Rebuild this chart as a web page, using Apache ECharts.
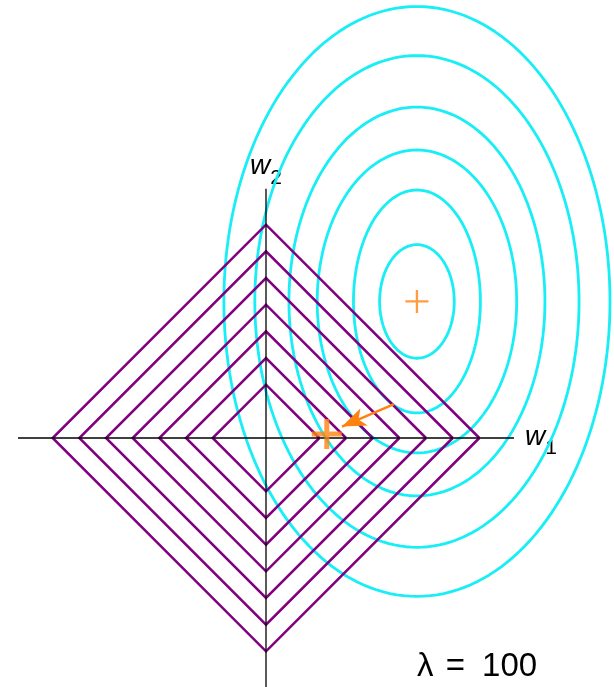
<!DOCTYPE html>
<html>
<head>
<meta charset="utf-8">
<script src="https://cdn.jsdelivr.net/npm/echarts@6/dist/echarts.min.js"></script>
<style>
html,body{margin:0;padding:0;background:#fff;}
#chart{width:614px;height:687px;}
</style>
</head>
<body>
<div id="chart"></div>
<script>
// ---- data ----
const diamondSizes = [2, 3, 4, 5, 6, 7, 8];             // L1-ball radii (|w1|+|w2| = r)
const ellipseCenter = [5.66, 5.12];                    // unregularised optimum
const ellipseA = [1.40, 2.38, 3.74, 4.80, 6.08, 7.24];  // horizontal semi-axes
const ellipseB = [2.13, 4.18, 5.68, 7.29, 9.22, 11.06]; // vertical semi-axes
const solutionPoint = [2.28, 0.15];                    // regularised optimum
const arrowFrom = [4.80, 1.27];
const arrowTo = [2.85, 0.43];
const axisXRange = [-9.3, 9.3];
const axisYRange = [-9.35, 9.35];
const xLabel = ['w', '1'];
const yLabel = ['w', '2'];
const lambdaParts = ['λ', '=', '100'];

const CYAN = '#18eef5';
const PURPLE = '#800080';
const ORANGE = '#ff8210';
const FONT = '"Liberation Sans", Arial, Helvetica, sans-serif';

const series = [];
ellipseA.forEach((a, i) => {
  const b = ellipseB[i];
  const pts = [];
  for (let t = 0; t <= 360; t += 2) {
    const r = t * Math.PI / 180;
    pts.push([ellipseCenter[0] + a * Math.cos(r), ellipseCenter[1] + b * Math.sin(r)]);
  }
  series.push({
    type: 'line', data: pts, showSymbol: false, symbol: 'none', clip: false,
    lineStyle: { color: CYAN, width: 2.8 }, silent: true, z: 2
  });
});
diamondSizes.forEach(r => {
  series.push({
    type: 'line', data: [[r, 0], [0, r], [-r, 0], [0, -r], [r, 0]],
    showSymbol: false, symbol: 'none', clip: false,
    lineStyle: { color: PURPLE, width: 2.5, join: 'miter' }, silent: true, z: 3
  });
});
// coordinate axes
series.push({
  type: 'line', data: [[axisXRange[0], 0], [axisXRange[1], 0]],
  showSymbol: false, symbol: 'none', clip: false, silent: true, z: 4,
  lineStyle: { color: '#000', width: 1.3 }
});
series.push({
  type: 'line', data: [[0, axisYRange[0]], [0, axisYRange[1]]],
  showSymbol: false, symbol: 'none', clip: false, silent: true, z: 4,
  lineStyle: { color: '#000', width: 1.3 }
});
// small cross at the unregularised optimum
series.push({
  type: 'scatter', data: [ellipseCenter], clip: false, silent: true, z: 5,
  symbol: 'path://M0,4.5H4.5V0H5.5V4.5H10V5.5H5.5V10H4.5V5.5H0Z',
  symbolSize: 23, itemStyle: { color: ORANGE }
});
// big cross at regularised solution + arrow
series.push({
  type: 'scatter', data: [solutionPoint], clip: false, silent: true, z: 6,
  symbol: 'path://M0,12.5H12.5V0H17.5V12.5H30V17.5H17.5V30H12.5V17.5H0Z',
  symbolSize: 30, itemStyle: { color: ORANGE },
  markLine: {
    silent: true, symbol: ['none', 'arrow'], symbolSize: [14, 24],
    label: { show: false },
    lineStyle: { color: ORANGE, width: 2.5, type: 'solid' },
    emphasis: { disabled: true },
    data: [[{ coord: arrowFrom }, { coord: arrowTo }]]
  }
});

const rich = {
  w: { fontFamily: FONT, fontSize: 28, fontStyle: 'italic', fill: '#000', verticalAlign: 'top', lineHeight: 30 },
  s: { fontFamily: FONT, fontSize: 21, fill: '#000', verticalAlign: 'top', lineHeight: 21, padding: [15, 0, 0, 0] }
};

const chart = echarts.init(document.getElementById('chart'), null, { renderer: 'canvas' });
chart.setOption({
  animation: false,
  backgroundColor: '#fff',
  grid: { left: 0, top: 0, right: 0, bottom: 0, containLabel: false },
  xAxis: { type: 'value', min: -9.975, max: 13.05, show: false },
  yAxis: { type: 'value', min: -9.3375, max: 16.425, show: false },
  series: series
});

const xEnd = chart.convertToPixel({ gridIndex: 0 }, [axisXRange[1], 0]);
const yEnd = chart.convertToPixel({ gridIndex: 0 }, [0, axisYRange[1]]);
chart.setOption({
  graphic: [
    {
      type: 'text', x: xEnd[0] + 11, y: xEnd[1], silent: true,
      style: { text: '{w|' + xLabel[0] + '}{s|' + xLabel[1] + '}', rich: rich, align: 'left', verticalAlign: 'middle' }
    },
    {
      type: 'text', x: yEnd[0], y: yEnd[1] - 6, silent: true,
      style: { text: '{w|' + yLabel[0] + '}{s|' + yLabel[1] + '}', rich: rich, align: 'center', verticalAlign: 'bottom' }
    },
    {
      type: 'text', left: 417, top: 650, silent: true,
      style: {
        text: '{l|' + lambdaParts[0] + '}{e| ' + lambdaParts[1] + ' }{n|' + lambdaParts[2] + '}',
        rich: {
          l: { fontFamily: FONT, fontSize: 33, fill: '#000' },
          e: { fontFamily: FONT, fontSize: 33, fill: '#000', padding: [0, 8, 0, 3] },
          n: { fontFamily: FONT, fontSize: 33, fill: '#000' }
        }
      }
    }
  ]
});
</script>
</body>
</html>
